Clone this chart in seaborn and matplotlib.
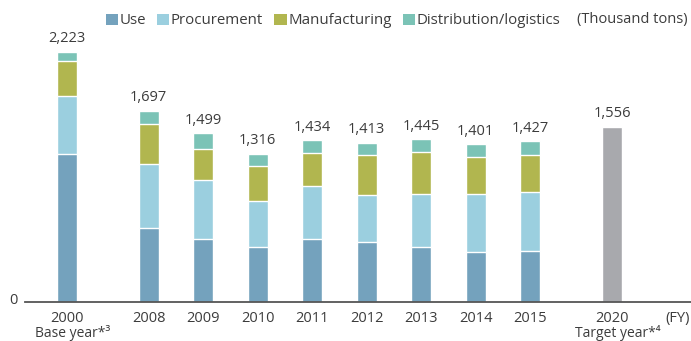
import matplotlib
matplotlib.use("Agg")
import matplotlib.pyplot as plt
from matplotlib.patches import Patch
import seaborn as sns
import pandas as pd

# CO2 emissions by life-cycle stage (thousand tons)
years = ["2000", "2008", "2009", "2010", "2011", "2012", "2013", "2014", "2015"]
use = [1311, 658, 556, 487, 559, 529, 489, 445, 453]
procurement = [519, 565, 522, 404, 471, 419, 467, 511, 523]
manufacturing = [311, 361, 279, 312, 292, 353, 379, 328, 328]
distribution = [82, 113, 142, 113, 112, 112, 110, 117, 123]
totals = [2223, 1697, 1499, 1316, 1434, 1413, 1445, 1401, 1427]
target_year = "2020"
target_total = 1556

stages = ["Use", "Procurement", "Manufacturing", "Distribution/logistics"]
colors = ["#74a2bd", "#9bcfdf", "#b1b64f", "#7bc3b6"]
target_color = "#a8a9ad"
text_color = "#3c3c3c"

sns.set_style("white")
plt.rcParams["font.family"] = ["Open Sans", "DejaVu Sans"]
plt.rcParams["font.size"] = 10.5

# slot positions: base year, then yearly bars, then a gap before the target year
pos = [0.0] + [1.5 + i for i in range(len(years) - 1)]
target_pos = pos[-1] + 1.5

df = pd.DataFrame({"pos": pos, "Use": use, "Procurement": procurement,
                   "Manufacturing": manufacturing,
                   "Distribution/logistics": distribution})
cum = df[stages].cumsum(axis=1)

fig = plt.figure(figsize=(6.91, 3.41), dpi=100)
W, H = 691, 341
ax = fig.add_axes([25 / W, 39.3 / H, 666 / W, 301.7 / H])

# stacked bars: draw cumulative heights from the top layer down
for stage, color in reversed(list(zip(stages, colors))):
    sns.barplot(x=df["pos"], y=cum[stage], native_scale=True, color=color,
                saturation=1, width=0.36, errorbar=None, edgecolor="white",
                linewidth=1.0, ax=ax)

sns.barplot(x=[target_pos], y=[target_total], native_scale=True,
            color=target_color, saturation=1, width=0.36, errorbar=None,
            edgecolor="white", linewidth=1.0, ax=ax)

for p, t in zip(pos + [target_pos], totals + [target_total]):
    ax.annotate(f"{t:,}", (p, t), xytext=(0, 4), textcoords="offset points",
                ha="center", va="bottom", color=text_color, fontsize=10.5)

ax.set_xlim(-0.771, 11.45)
ax.set_ylim(0, 2682)
ax.set_xticks([])
ax.set_yticks([])
ax.set_xlabel("")
ax.set_ylabel("")
for s in ["top", "right", "left"]:
    ax.spines[s].set_visible(False)
ax.spines["bottom"].set_color("#555555")
ax.spines["bottom"].set_linewidth(1.3)

# category labels under the axis
xt = ax.get_xaxis_transform()
for p, y in zip(pos + [target_pos], years + [target_year]):
    ax.text(p, -0.055, y, transform=xt, ha="center", va="center",
            color=text_color, fontsize=10.5, clip_on=False)
ax.text(pos[0] + 0.1, -0.104, "Base year*³", transform=xt, ha="center",
        va="center", color=text_color, fontsize=10, clip_on=False)
ax.text(target_pos + 0.1, -0.104, "Target year*⁴", transform=xt, ha="center",
        va="center", color=text_color, fontsize=10, clip_on=False)
ax.text(11.2, -0.055, "(FY)", transform=xt, ha="center", va="center",
        color=text_color, fontsize=10.5, clip_on=False)
fig.text(13 / W, 1 - 301 / H, "0", ha="center", va="center",
         color=text_color, fontsize=10.5)
fig.text(688 / W, 1 - 20 / H, "(Thousand tons)", ha="right", va="center",
         color=text_color, fontsize=10.5)

handles = [Patch(facecolor=c, edgecolor="none", label=s)
           for s, c in zip(stages, colors)]
fig.legend(handles=handles, loc="center", bbox_to_anchor=(333 / W, 1 - 21 / H),
           ncol=4, frameon=False, handlelength=0.82, handleheight=0.78,
           handletextpad=0.1, columnspacing=0.75, borderpad=0,
           fontsize=10.8, labelcolor=text_color)

fig.savefig("out.png", dpi=100)
